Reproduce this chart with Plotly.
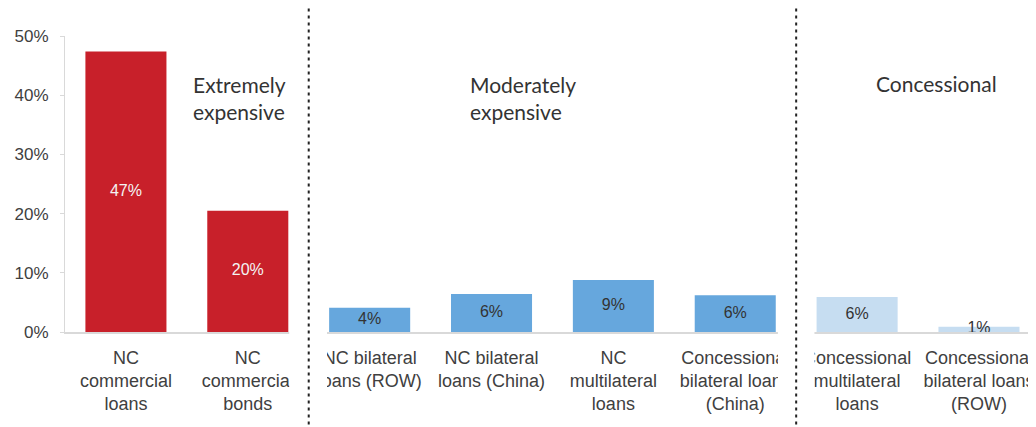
import plotly.graph_objects as go

categories = [
    "NC<br>commercial<br>loans",
    "NC<br>commercial<br>bonds",
    "NC bilateral<br>loans (ROW)",
    "NC bilateral<br>loans (China)",
    "NC<br>multilateral<br>loans",
    "Concessional<br>bilateral loans<br>(China)",
    "Concessional<br>multilateral<br>loans",
    "Concessional<br>bilateral loans<br>(ROW)",
]
values = [0.474, 0.205, 0.041, 0.064, 0.088, 0.062, 0.059, 0.009]
value_labels = ["47%", "20%", "4%", "6%", "9%", "6%", "6%", "1%"]
bar_colors = ["#C8202A", "#C8202A", "#66A7DD", "#66A7DD", "#66A7DD", "#66A7DD",
              "#C6DDF1", "#C6DDF1"]
label_colors = ["#F4F4F4", "#F4F4F4", "#333333", "#333333", "#333333", "#333333",
                "#333333", "#333333"]
group_titles = ["Extremely<br>expensive", "Moderately<br>expensive", "Concessional"]
y_ticks = [0, 0.1, 0.2, 0.3, 0.4, 0.5]

xs = list(range(len(categories)))

fig = go.Figure()
fig.add_trace(go.Bar(
    x=xs, y=values, width=0.665,
    marker=dict(color=bar_colors, line=dict(width=0)),
    hoverinfo="skip", showlegend=False,
))
fig.add_trace(go.Scatter(
    x=xs, y=[v / 2 for v in values], mode="text", text=value_labels,
    textfont=dict(family="Liberation Sans, Arial", size=16, color=label_colors),
    textposition="middle center", cliponaxis=False, showlegend=False, hoverinfo="skip",
))

# group titles
title_pos = [(0.53, 0.395), (2.81, 0.395), (6.14, 0.42)]
for t, (x, y) in zip(group_titles, title_pos):
    fig.add_annotation(x=x, y=y, xref="x", yref="y", text=t, showarrow=False,
                       xanchor="left", yanchor="middle", align="left",
                       font=dict(family="Lato, Open Sans", size=21, color="#333333"))

# white masks where the pasted panels were cut
for x0, x1 in [(1.34, 1.65), (5.35, 5.65)]:
    fig.add_shape(type="rect", xref="x", yref="paper", x0=x0, x1=x1, y0=-0.45, y1=0.004,
                  fillcolor="white", line=dict(width=0), layer="above")

# dotted separators
for xd in [1.5, 5.5]:
    fig.add_shape(type="line", xref="x", yref="paper", x0=xd, x1=xd, y0=-0.36, y1=1.1,
                  line=dict(color="#222222", width=2, dash="3px,4px"), layer="above")

fig.update_layout(
    width=1036, height=427,
    margin=dict(l=57, r=8, t=28, b=103, autoexpand=False),
    paper_bgcolor="white", plot_bgcolor="white",
    xaxis=dict(
        range=[-0.5, 7.468], tickmode="array", tickvals=xs, ticktext=categories,
        showline=True, linecolor="#D9D9D9", linewidth=2, showgrid=False, zeroline=False,
        ticks="outside", ticklen=8, tickcolor="rgba(0,0,0,0)", automargin=False,
        tickfont=dict(family="Liberation Sans, Arial", size=18, color="#404040"),
        fixedrange=True,
    ),
    yaxis=dict(
        range=[0, 0.5], tickmode="array", tickvals=y_ticks, tickformat=".0%",
        showline=True, linecolor="#D9D9D9", linewidth=1, showgrid=False, zeroline=False,
        ticks="outside", ticklen=4, tickcolor="#D9D9D9", ticklabelstandoff=8,
        automargin=False,
        tickfont=dict(family="Liberation Sans, Arial", size=17, color="#404040"),
        fixedrange=True,
    ),
)

fig.write_html("out.html")
